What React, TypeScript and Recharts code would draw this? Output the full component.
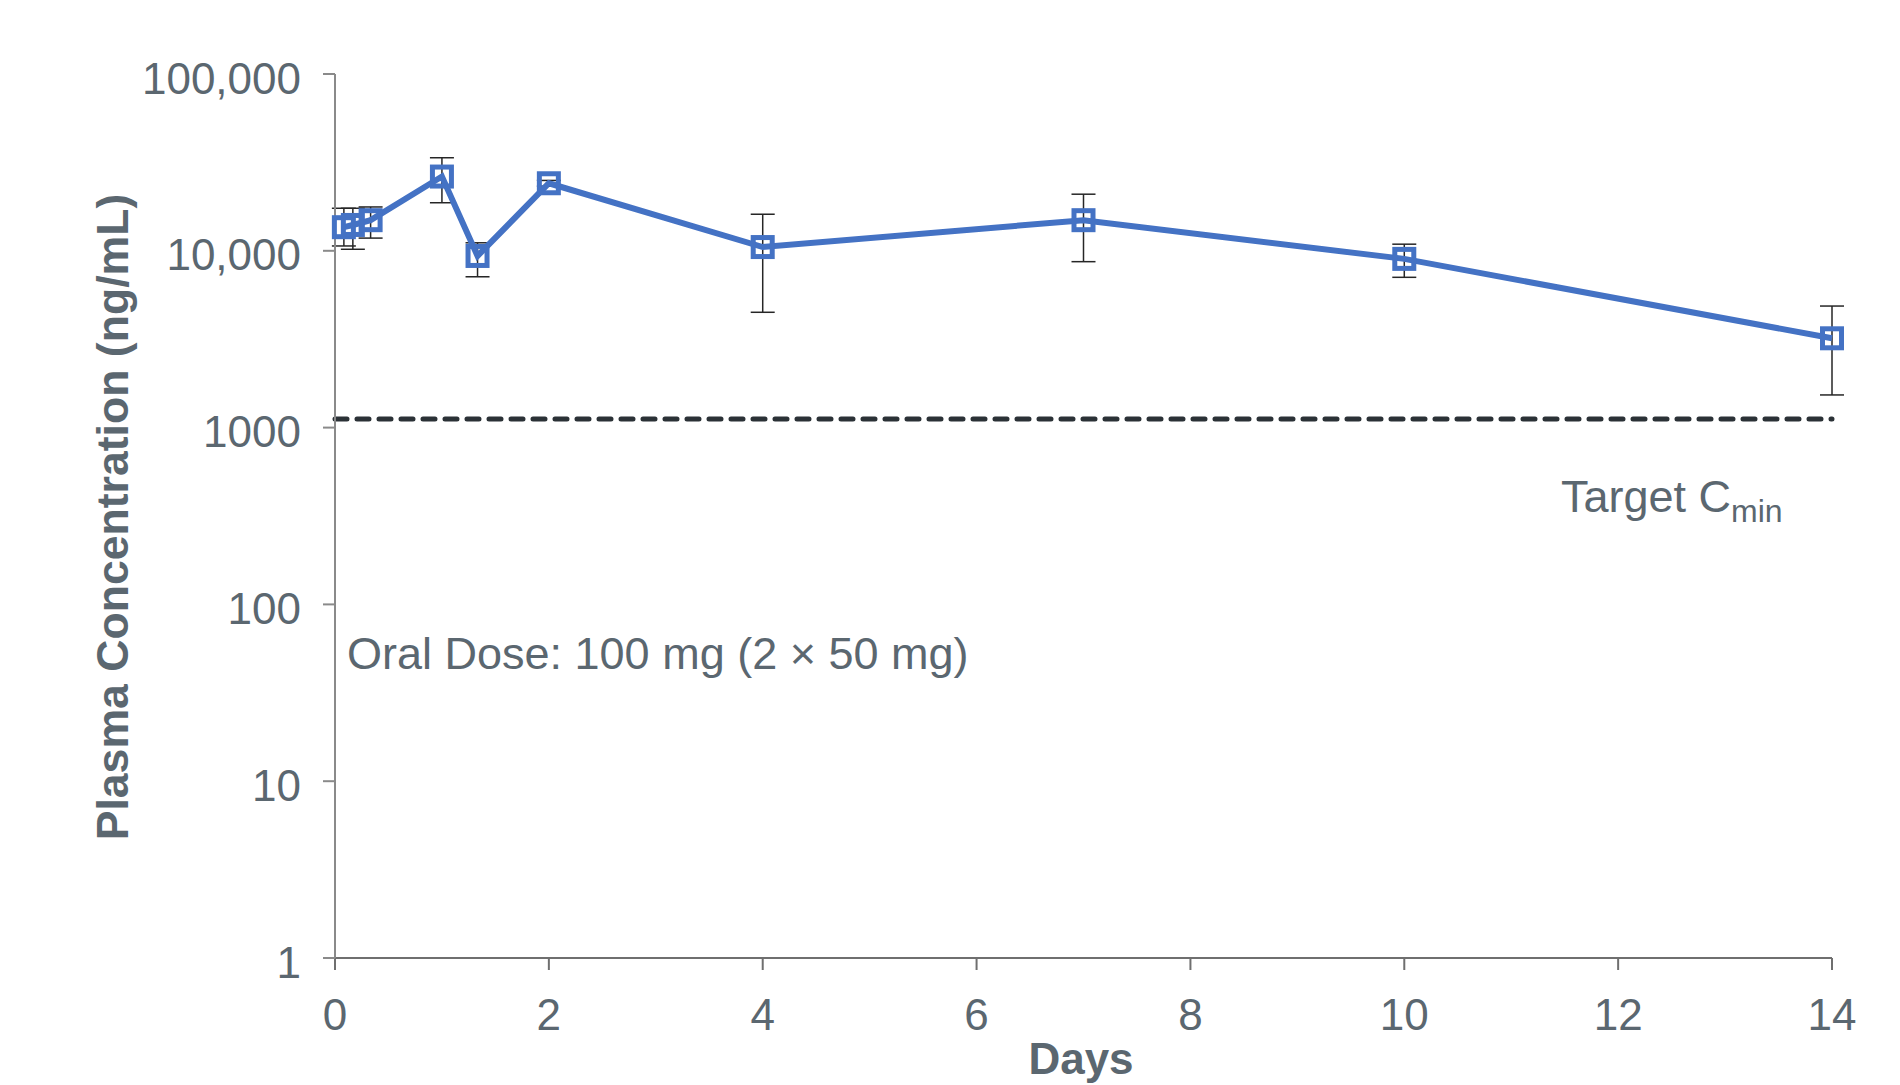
import React from 'react';
import { LineChart, Line, XAxis, YAxis, ErrorBar, ReferenceLine } from 'recharts';

// sampling times (days) and mean plasma concentration (ng/mL)
const days = [0.083, 0.167, 0.333, 1, 1.333, 2, 4, 7, 10, 14];
const meanConc = [13600, 14000, 14900, 26300, 9350, 24100, 10500, 14900, 9000, 3200];
const upperConc = [17400, 17400, 17700, 33600, 11100, 25000, 16100, 20900, 10900, 4870];
const lowerConc = [10650, 10200, 11800, 18700, 7130, 23200, 4490, 8680, 7080, 1530];

const targetCmin = 1120;
const xTicks = [0, 2, 4, 6, 8, 10, 12, 14];
const yTicks = [1, 10, 100, 1000, 10000, 100000];

const data = days.map((d, i) => ({
  day: d,
  conc: meanConc[i],
  err: [meanConc[i] - lowerConc[i], upperConc[i] - meanConc[i]],
}));

const FONT = '"Liberation Sans", Arial, sans-serif';
const TEXT = '#5b6770';
const BLUE = '#4472C4';

const formatY = (v: number) => (v >= 10000 ? v.toLocaleString('en-US') : String(v));

const SquareDot = (props: any) => {
  const { cx, cy, index } = props;
  if (cx == null || cy == null) return null;
  return (
    <rect
      key={`dot-${index}`}
      x={cx - 9.5}
      y={cy - 9.5}
      width={19}
      height={19}
      fill="none"
      stroke={BLUE}
      strokeWidth={5}
    />
  );
};

const App = () => {
  return (
    <div style={{ position: 'relative', width: 1892, height: 1077, fontFamily: FONT }}>
      <LineChart
        width={1892}
        height={1077}
        data={data}
        margin={{ top: 66, right: 68, left: 0, bottom: 0 }}
      >
        <XAxis
          dataKey="day"
          type="number"
          domain={[0, 14]}
          ticks={xTicks}
          height={127}
          tickSize={12}
          tickMargin={29}
          stroke="#6f6f6f"
          strokeWidth={2}
          tick={{ fill: TEXT, fontSize: 44, fontFamily: FONT }}
        />
        <YAxis
          type="number"
          scale="log"
          domain={[1, 100000]}
          ticks={yTicks}
          allowDataOverflow
          width={327}
          tickSize={12}
          tickMargin={22}
          tickFormatter={formatY}
          stroke="#8a8a8a"
          strokeWidth={2}
          tick={{ fill: TEXT, fontSize: 44, fontFamily: FONT, dy: 4 }}
        />
        <ReferenceLine
          y={targetCmin}
          stroke="#2b3136"
          strokeWidth={5}
          strokeDasharray="12 10"
          strokeLinecap="round"
        />
        <Line
          type="linear"
          dataKey="conc"
          stroke={BLUE}
          strokeWidth={6}
          dot={SquareDot}
          activeDot={false}
          isAnimationActive={false}
        >
          <ErrorBar dataKey="err" direction="y" width={12} stroke="#262626" strokeWidth={1.5} />
        </Line>
      </LineChart>

      {/* annotations and axis titles */}
      <svg
        width={1892}
        height={1077}
        style={{ position: 'absolute', left: 0, top: 0, pointerEvents: 'none' }}
      >
        <text x={339} y={661} fill={TEXT} fontSize={45} fontFamily={FONT}>
          Oral Dose: 100 mg (2 × 50 mg)
        </text>
        <text x={1553} y={504} fill={TEXT} fontSize={45} fontFamily={FONT}>
          Target C
          <tspan dy={10} fontSize={32}>min</tspan>
        </text>
        <text
          x={120}
          y={509}
          fill={TEXT}
          fontSize={44.6}
          fontWeight="bold"
          fontFamily={FONT}
          textAnchor="middle"
          transform="rotate(-90, 120, 509)"
        >
          Plasma Concentration (ng/mL)
        </text>
        <text
          x={1073}
          y={1066}
          fill={TEXT}
          fontSize={44}
          fontWeight="bold"
          fontFamily={FONT}
          textAnchor="middle"
        >
          Days
        </text>
      </svg>
    </div>
  );
};

export default App;
